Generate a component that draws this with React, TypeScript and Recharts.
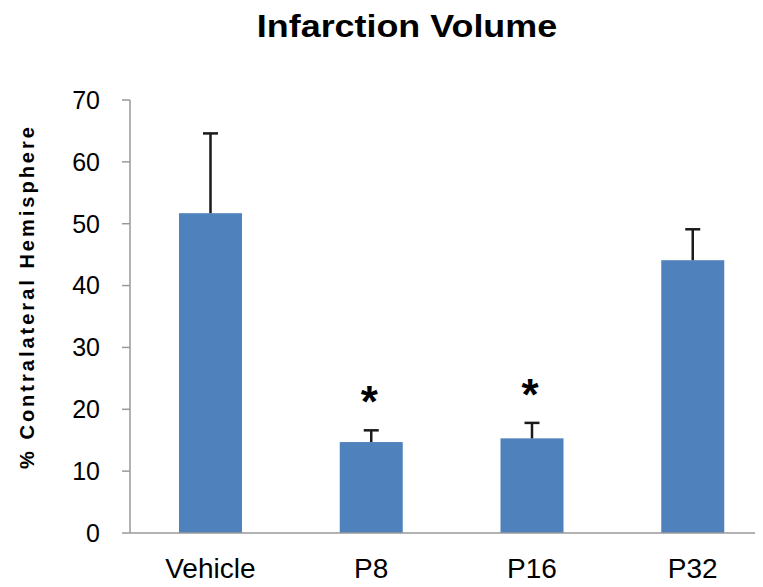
import { Bar, BarChart, XAxis, YAxis } from "recharts";

const groups = ["Vehicle", "P8", "P16", "P32"];
const means = [51.7, 14.7, 15.3, 44.1];
const errors = [12.9, 1.9, 2.5, 5.0];
const significant = [false, true, true, false];
const yTicks = [0, 10, 20, 30, 40, 50, 60, 70];
const edgeTicks = [0, 1, 2, 3, 4];

const data = groups.map((name, i) => ({
  name,
  mean: means[i],
  err: errors[i],
  sig: significant[i],
}));

const FONT = "'Liberation Sans', Arial, sans-serif";

// bar + upward-only error bar + optional asterisk
function BarWithError(props: any) {
  const { x, y, width, height, payload } = props;
  const pxPerUnit = payload.mean ? height / payload.mean : 0;
  const cx = x + width / 2;
  const capY = y - payload.err * pxPerUnit;
  return (
    <g>
      <rect x={x} y={y} width={width} height={height} fill="#4F81BD" />
      <line x1={cx} y1={y} x2={cx} y2={capY} stroke="#1a1a1a" strokeWidth={2.5} />
      <line x1={cx - 7.5} y1={capY} x2={cx + 7.5} y2={capY} stroke="#1a1a1a" strokeWidth={2.5} />
      {payload.sig && (
        <text x={cx - 2} y={capY - 13} textAnchor="middle" fontSize={44} fontWeight="bold" fill="#000" fontFamily={FONT}>
          *
        </text>
      )}
    </g>
  );
}

function YLabel(props: any) {
  const vb = props.viewBox || { y: 100, height: 433 };
  const cy = vb.y + vb.height / 2 - 20;
  const tx = 34;
  return (
    <text
      x={tx}
      y={cy}
      transform={`rotate(-90 ${tx} ${cy})`}
      textAnchor="middle"
      fontSize={20}
      fontWeight="bold"
      fill="#000"
      style={{ letterSpacing: "3px" }}
      fontFamily={FONT}
    >
      % Contralateral Hemisphere
    </text>
  );
}

export default function App() {
  return (
    <div style={{ position: "relative", width: 763, height: 587, overflow: "hidden", margin: -8, background: "#fff", fontFamily: FONT }}>
      <div
        style={{
          position: "absolute",
          top: 11,
          left: 406.5,
          whiteSpace: "nowrap",
          fontSize: 31,
          lineHeight: "31px",
          fontWeight: "bold",
          transform: "translateX(-50%) scaleX(1.157)",
        }}
      >
        Infarction Volume
      </div>
      <BarChart width={775} height={587} data={data} margin={{ top: 100, right: 2, bottom: 0, left: 0 }}>
        <XAxis
          xAxisId="edges"
          type="number"
          domain={[0, 4]}
          ticks={edgeTicks}
          tick={() => <g />}
          axisLine={false}
          tickSize={10}
          tickLine={{ stroke: "#999", strokeWidth: 1.5 }}
          height={0}
        />
        <XAxis
          xAxisId="cat"
          dataKey="name"
          tickLine={false}
          tickSize={0}
          tickMargin={25}
          height={54}
          axisLine={{ stroke: "#999", strokeWidth: 1.5 }}
          tick={{ fontSize: 28, fill: "#000" }}
          interval={0}
        />
        <YAxis
          domain={[0, 70]}
          ticks={yTicks}
          width={130}
          tickSize={8}
          tickMargin={22}
          axisLine={{ stroke: "#999", strokeWidth: 1.5 }}
          tickLine={{ stroke: "#999", strokeWidth: 1.5 }}
          tick={{ fontSize: 25, fill: "#000" }}
          label={<YLabel />}
        />
        <Bar xAxisId="cat" dataKey="mean" barSize={63} shape={BarWithError} isAnimationActive={false} />
      </BarChart>
    </div>
  );
}
